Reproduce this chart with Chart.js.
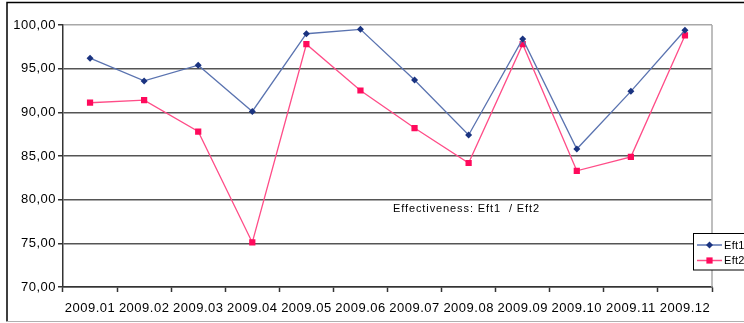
<!DOCTYPE html>
<html>
<head>
<meta charset="utf-8">
<script src="https://cdn.jsdelivr.net/npm/chart.js@4/dist/chart.umd.min.js"></script>
<style>
  html, body { margin: 0; padding: 0; background: #ffffff; }
  #wrap { width: 744px; height: 323px; overflow: hidden; }
  canvas { display: block; }
</style>
</head>
<body>
<div id="wrap"><canvas id="c" width="744" height="323"></canvas></div>
<script>
// Monthly effectiveness figures
const months = ['2009.01', '2009.02', '2009.03', '2009.04', '2009.05', '2009.06',
                '2009.07', '2009.08', '2009.09', '2009.10', '2009.11', '2009.12'];
const eft1 = [96.2, 93.6, 95.4, 90.1, 99.0, 99.5, 93.7, 87.4, 98.4, 85.8, 92.4, 99.4];
const eft2 = [91.1, 91.4, 87.8, 75.1, 97.8, 92.5, 88.2, 84.2, 97.8, 83.3, 84.9, 98.8];
const yMin = 70;
const yMax = 100;
const yStep = 5;
const noteText = 'Effectiveness: Eft1  / Eft2';

const FONT = "'Liberation Sans', Arial, sans-serif";

// Outer frame around the whole chart
const framePlugin = {
  id: 'frame',
  beforeDraw(chart) {
    const ctx = chart.ctx;
    ctx.save();
    ctx.fillStyle = '#ffffff';
    ctx.fillRect(0, 0, chart.width, chart.height);
    ctx.strokeStyle = '#000000';
    ctx.lineWidth = 1.5;
    ctx.beginPath();
    ctx.moveTo(chart.width + 5, 2.5);
    ctx.lineTo(7, 2.5);
    ctx.lineTo(7, 321.5);
    ctx.stroke();
    ctx.strokeStyle = '#b0b0b0';
    ctx.lineWidth = 1;
    ctx.beginPath();
    ctx.moveTo(7, 321.5);
    ctx.lineTo(chart.width + 5, 321.5);
    ctx.stroke();
    ctx.restore();
    // slightly wider glyph spacing for the axis labels
    ctx.letterSpacing = '0.5px';
  },
  beforeDatasetsDraw(chart) {
    // plot area right edge
    const a = chart.chartArea;
    const ctx = chart.ctx;
    ctx.save();
    ctx.strokeStyle = '#a8a8a8';
    ctx.lineWidth = 1.5;
    ctx.beginPath();
    ctx.moveTo(a.right, a.top);
    ctx.lineTo(a.right, a.bottom);
    ctx.stroke();
    ctx.restore();
  }
};

// Caption text inside the plot and the boxed legend on the right
const notePlugin = {
  id: 'note',
  afterDraw(chart) {
    const ctx = chart.ctx;
    ctx.save();
    ctx.font = '11px ' + FONT;
    ctx.letterSpacing = '0.9px';
    ctx.fillStyle = '#000000';
    ctx.textBaseline = 'middle';
    ctx.textAlign = 'left';
    ctx.fillText(noteText, 393, 209);

    // legend box
    const bx = 693, by = 233.5, bw = 70, bh = 36.5;
    ctx.fillStyle = '#ffffff';
    ctx.fillRect(bx, by, bw, bh);
    ctx.strokeStyle = '#000000';
    ctx.lineWidth = 1;
    ctx.strokeRect(bx + 0.5, by, bw, bh);
    chart.data.datasets.forEach((ds, i) => {
      const y = by + 11.5 + i * 15.5;
      ctx.strokeStyle = ds.borderColor;
      ctx.lineWidth = 1.5;
      ctx.beginPath();
      ctx.moveTo(697, y);
      ctx.lineTo(722, y);
      ctx.stroke();
      ctx.fillStyle = ds.pointBackgroundColor;
      ctx.beginPath();
      if (ds.pointStyle === 'rect') {
        const s = ds.pointRadius * Math.SQRT1_2;
        ctx.rect(709.5 - s, y - s, 2 * s, 2 * s);
      } else {
        const r = ds.pointRadius;
        ctx.moveTo(709.5, y - r);
        ctx.lineTo(709.5 + r, y);
        ctx.lineTo(709.5, y + r);
        ctx.lineTo(709.5 - r, y);
        ctx.closePath();
      }
      ctx.fill();
      ctx.fillStyle = '#000000';
      ctx.font = '11px ' + FONT;
      ctx.letterSpacing = '0.3px';
      ctx.fillText(ds.label, 724, y + 0.5);
    });
    ctx.restore();
  }
};

new Chart(document.getElementById('c'), {
  type: 'line',
  data: {
    labels: months,
    datasets: [
      {
        label: 'Eft1',
        data: eft1,
        borderColor: '#5a73b0',
        borderWidth: 1.3,
        pointStyle: 'rectRot',
        pointRadius: 3.5,
        pointBackgroundColor: '#1a3380',
        pointBorderColor: '#1a3380',
        pointBorderWidth: 0,
        tension: 0
      },
      {
        label: 'Eft2',
        data: eft2,
        borderColor: '#ff4d88',
        borderWidth: 1.3,
        pointStyle: 'rect',
        pointRadius: 4.4,
        pointBackgroundColor: '#ff0a5c',
        pointBorderColor: '#ff0a5c',
        pointBorderWidth: 0,
        tension: 0
      }
    ]
  },
  options: {
    responsive: false,
    animation: false,
    devicePixelRatio: 1,
    layout: { padding: { left: 0, top: 25, right: 32, bottom: 0 } },
    plugins: {
      legend: { display: false },
      tooltip: { enabled: false },
      title: { display: false }
    },
    scales: {
      x: {
        offset: true,
        afterFit(scale) { scale.height = 36; },
        grid: {
          offset: true,
          drawOnChartArea: false,
          drawTicks: true,
          tickLength: 5,
          tickColor: '#333333',
          tickWidth: 1.5
        },
        border: { color: '#333333', width: 1.5 },
        ticks: {
          color: '#000000',
          font: { family: FONT, size: 13 },
          padding: 9,
          maxRotation: 0,
          autoSkip: false
        }
      },
      y: {
        min: yMin,
        max: yMax,
        afterFit(scale) { scale.width = 63; },
        grid: {
          color(ctx) { return ctx.tick && ctx.tick.value === yMax ? '#a8a8a8' : '#555555'; },
          lineWidth: 1.5,
          tickLength: 5,
          tickColor: '#333333',
          tickWidth: 1.5
        },
        border: { color: '#333333', width: 1.5 },
        ticks: {
          stepSize: yStep,
          color: '#000000',
          font: { family: FONT, size: 13 },
          padding: 2,
          callback: v => v.toFixed(2).replace('.', ',')
        }
      }
    }
  },
  plugins: [framePlugin, notePlugin]
});
</script>
</body>
</html>
